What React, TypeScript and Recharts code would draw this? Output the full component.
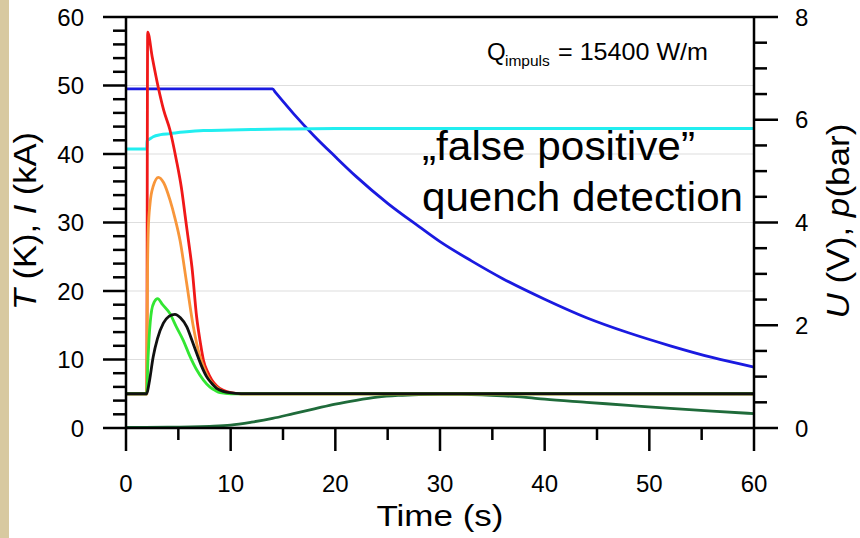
import React from 'react';
import { LineChart, Line, XAxis, YAxis, CartesianGrid, ReferenceLine } from 'recharts';

const FONT = '"Liberation Sans", Arial, sans-serif';

// axis ticks
const timeTicks = [0, 5, 10, 15, 20, 25, 30, 35, 40, 45, 50, 55, 60];
const leftTicks = [0, 2, 4, 6, 8, 10, 12, 14, 16, 18, 20, 22, 24, 26, 28, 30, 32, 34, 36, 38, 40, 42, 44, 46, 48, 50, 52, 54, 56, 58, 60];
const rightTicks = [0, 0.5, 1, 1.5, 2, 2.5, 3, 3.5, 4, 4.5, 5, 5.5, 6, 6.5, 7, 7.5, 8];
const gridLevels = [10, 20, 30, 40, 50];

// red trace (left axis)
const redTime = [0, 1.98, 2.07, 2.5, 3.1, 3.6, 4.2, 4.8, 5.3, 5.7, 6.0, 6.3, 6.75, 7.1, 7.4, 7.8, 8.2, 8.7, 9.3, 10, 11, 60];
const redVal = [5, 5, 57.8, 54.2, 49.6, 46.4, 43.5, 39.2, 35, 30.4, 27, 23.5, 16.2, 12.5, 9.9, 8.2, 7.0, 6.1, 5.5, 5.15, 5, 5];

// orange trace
const orangeTime = [0, 1.98, 2.05, 2.13, 2.3, 2.6, 3.1, 3.6, 4.2, 4.7, 5.16, 5.8, 6.43, 7.07, 7.5, 8.0, 8.6, 9.3, 10, 11, 60];
const orangeVal = [5, 5, 22, 29, 32.8, 35.3, 36.6, 35.8, 33.3, 30.5, 27.4, 21.1, 14.8, 10.4, 8.6, 7.0, 6.0, 5.3, 5.05, 5, 5];

// green trace
const greenTime = [0, 1.98, 2.1, 2.2, 2.45, 2.7, 3.02, 3.5, 4.2, 4.8, 5.47, 6.1, 6.75, 7.4, 8.0, 8.5, 9.0, 10, 60];
const greenVal = [5, 5, 10, 13, 17.2, 18.4, 18.9, 18.0, 16.7, 14.8, 12.8, 10.5, 8.5, 7.0, 6.0, 5.5, 5.15, 5, 5];

// black trace
const blackTime = [0, 1.98, 2.2, 2.6, 3.0, 3.57, 4.1, 4.68, 5.2, 5.8, 6.3, 6.75, 7.2, 7.7, 8.2, 8.66, 9.3, 9.9, 11, 60];
const blackVal = [5, 5, 6.5, 10.4, 13, 15.3, 16.3, 16.6, 16.1, 14.8, 12.8, 10.9, 9.1, 7.5, 6.5, 5.8, 5.35, 5.15, 5.02, 5];

// current, kA
const blueTime = [0, 14, 14.3, 16, 18, 20, 22, 25, 28, 30, 33, 36, 40, 44, 48, 52, 56, 60];
const blueVal = [49.5, 49.5, 48.95, 45.9, 42.6, 39.6, 36.7, 32.8, 29.4, 27.2, 24.4, 21.8, 18.8, 16.1, 13.9, 12.0, 10.3, 8.9];

// dark green trace
const dkGreenTime = [0, 4, 8, 10, 12, 14, 16, 18, 20, 22, 24, 26, 28, 30, 32, 34, 36, 38, 40, 44, 48, 52, 56, 60];
const dkGreenVal = [0.1, 0.12, 0.25, 0.42, 0.85, 1.4, 2.1, 2.8, 3.5, 4.05, 4.5, 4.75, 4.88, 4.93, 4.92, 4.85, 4.7, 4.5, 4.2, 3.75, 3.3, 2.85, 2.45, 2.1];

// pressure, bar (right axis)
const cyanTime = [0, 1.98, 2.02, 2.3, 2.6, 3.3, 4.2, 5.5, 7.4, 10, 15, 20, 30, 60];
const cyanVal = [5.43, 5.43, 5.59, 5.63, 5.67, 5.71, 5.73, 5.76, 5.79, 5.8, 5.82, 5.83, 5.83, 5.83];

const pts = (t: number[], v: number[]) => t.map((tt, i) => ({ t: tt, v: v[i] }));

const LeftTick = (props: any) => {
  const { x, y, payload } = props;
  const v = payload.value;
  const major = v % 10 === 0;
  return (
    <g>
      <line x1={x - (major ? 23 : 13)} x2={x} y1={y} y2={y} stroke="#000" strokeWidth={2.5} />
      {major && (
        <text x={x - 42} y={y + 8.5} textAnchor="end" fontSize={24} fontFamily={FONT} fill="#000">{v}</text>
      )}
    </g>
  );
};

const RightTick = (props: any) => {
  const { x, y, payload } = props;
  const v = payload.value;
  const major = v % 2 === 0;
  return (
    <g>
      <line x1={x} x2={x + (major ? 24 : 13)} y1={y} y2={y} stroke="#000" strokeWidth={2.5} />
      {major && (
        <text x={x + 41} y={y + 8.5} textAnchor="start" fontSize={24} fontFamily={FONT} fill="#000">{v}</text>
      )}
    </g>
  );
};

const BottomTick = (props: any) => {
  const { x, y, payload } = props;
  const v = payload.value;
  const major = v % 10 === 0;
  return (
    <g>
      <line x1={x} x2={x} y1={y} y2={y + (major ? 23 : 12)} stroke="#000" strokeWidth={2.5} />
      {major && (
        <text x={x} y={y + 64} textAnchor="middle" fontSize={24} fontFamily={FONT} fill="#000">{v}</text>
      )}
    </g>
  );
};

export default function App() {
  return (
    <div style={{ position: 'fixed', left: 0, top: 0, width: 860, height: 538, background: '#fff', overflow: 'hidden' }}>
      <div style={{ position: 'absolute', left: 0, top: 0, width: 9, height: 538, background: '#d8c9a0' }} />
      <LineChart width={860} height={538} margin={{ top: 17, right: 0, bottom: 0, left: 0 }}>
        <CartesianGrid yAxisId="left" vertical={false} horizontalValues={gridLevels} stroke="#dedede" strokeWidth={1.2} />
        <XAxis
          dataKey="t"
          type="number"
          domain={[0, 60]}
          ticks={timeTicks}
          interval={0}
          height={110}
          tickSize={0}
          tickMargin={0}
          tick={<BottomTick />}
          axisLine={{ stroke: '#000', strokeWidth: 2.5 }}
          allowDuplicatedCategory={false}
        />
        <YAxis
          yAxisId="left"
          type="number"
          domain={[0, 60]}
          ticks={leftTicks}
          interval={0}
          width={126}
          tickSize={0}
          tickMargin={0}
          tick={<LeftTick />}
          axisLine={{ stroke: '#000', strokeWidth: 2.5 }}
        />
        <YAxis
          yAxisId="right"
          orientation="right"
          type="number"
          domain={[0, 8]}
          ticks={rightTicks}
          interval={0}
          width={106}
          tickSize={0}
          tickMargin={0}
          tick={<RightTick />}
          axisLine={{ stroke: '#000', strokeWidth: 2.5 }}
        />
        <ReferenceLine yAxisId="left" y={60} stroke="#000" strokeWidth={2.5} />
        <Line yAxisId="left" data={pts(dkGreenTime, dkGreenVal)} dataKey="v" type="monotone" stroke="#1f6b3a" strokeWidth={2.8} dot={false} isAnimationActive={false} />
        <Line yAxisId="left" data={pts(blueTime, blueVal)} dataKey="v" type="monotone" stroke="#1a1ae0" strokeWidth={2.8} dot={false} isAnimationActive={false} />
        <Line yAxisId="right" data={pts(cyanTime, cyanVal)} dataKey="v" type="monotone" stroke="#22eef0" strokeWidth={3} dot={false} isAnimationActive={false} />
        <Line yAxisId="left" data={pts(redTime, redVal)} dataKey="v" type="monotone" stroke="#f01818" strokeWidth={2.8} dot={false} isAnimationActive={false} />
        <Line yAxisId="left" data={pts(orangeTime, orangeVal)} dataKey="v" type="monotone" stroke="#f8963a" strokeWidth={2.8} dot={false} isAnimationActive={false} />
        <Line yAxisId="left" data={pts(greenTime, greenVal)} dataKey="v" type="monotone" stroke="#33e633" strokeWidth={2.8} dot={false} isAnimationActive={false} />
        <Line yAxisId="left" data={pts(blackTime, blackVal)} dataKey="v" type="monotone" stroke="#111" strokeWidth={2.8} dot={false} isAnimationActive={false} />
      </LineChart>
      <svg width={860} height={538} style={{ position: 'absolute', left: 0, top: 0, pointerEvents: 'none' }} fontFamily={FONT}>
        <text transform="translate(36,221) rotate(-90)" textAnchor="middle" fontSize={31} textLength={178} lengthAdjust="spacingAndGlyphs" fill="#000">
          <tspan fontStyle="italic">T</tspan> (K), <tspan fontStyle="italic">I</tspan> (kA)
        </text>
        <text transform="translate(849,221) rotate(-90)" textAnchor="middle" fontSize={31} textLength={195} lengthAdjust="spacingAndGlyphs" fill="#000">
          <tspan fontStyle="italic">U</tspan> (V), <tspan fontStyle="italic">p</tspan>(bar)
        </text>
        <text x={440} y={526} textAnchor="middle" fontSize={30} textLength={127} lengthAdjust="spacingAndGlyphs" fill="#000">Time (s)</text>
        <text x={487} y={60} fontSize={24} fill="#000">Q</text>
        <text x={505} y={66} fontSize={15.5} fill="#000">impuls</text>
        <text x={558} y={60} fontSize={24} textLength={150} lengthAdjust="spacingAndGlyphs" fill="#000">= 15400 W/m</text>
        <text x={422} y={160} fontSize={40} textLength={273} lengthAdjust="spacingAndGlyphs" fill="#000">„false positive”</text>
        <text x={422} y={211} fontSize={40} textLength={321} lengthAdjust="spacingAndGlyphs" fill="#000">quench detection</text>
      </svg>
    </div>
  );
}
